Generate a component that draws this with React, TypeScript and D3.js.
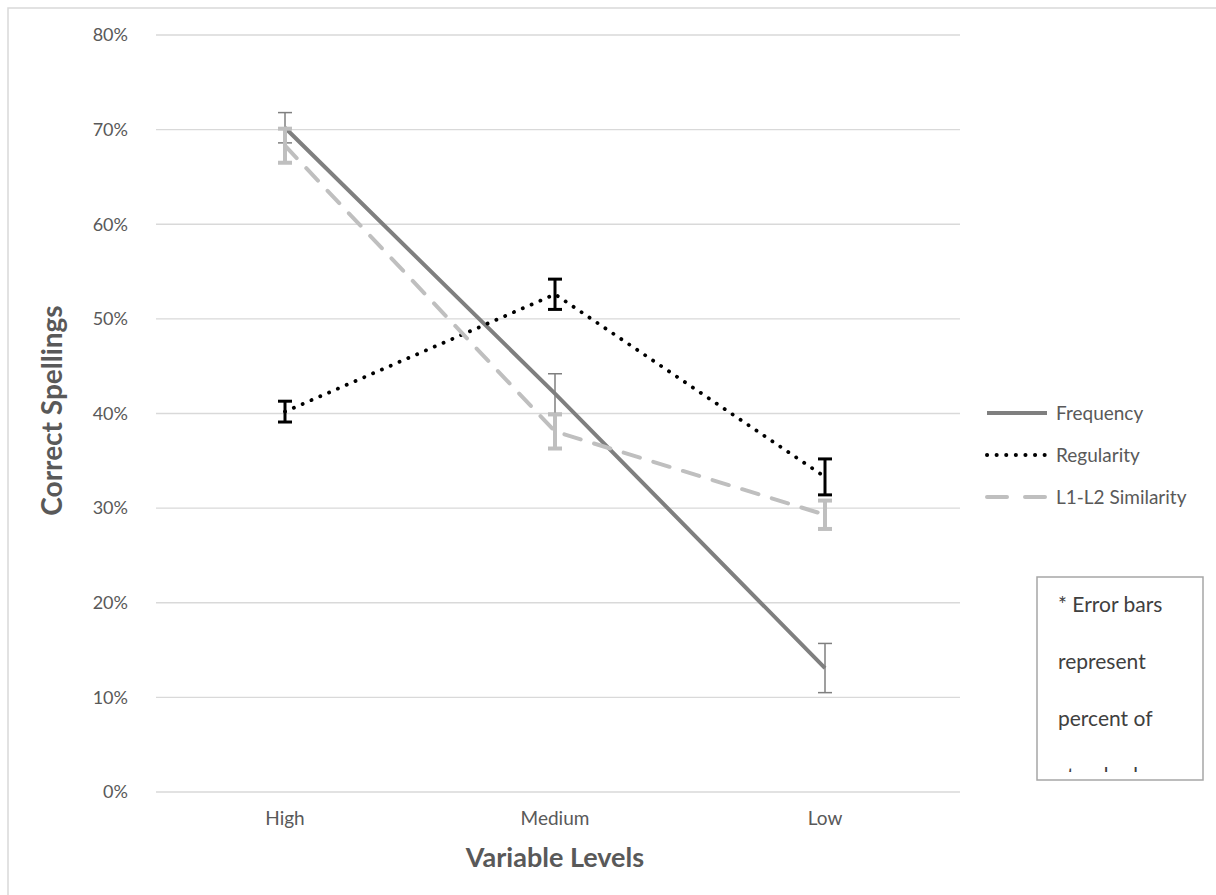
import React from "react";
import { scaleBand, scaleLinear, line } from "d3";

const levels = ["High", "Medium", "Low"];
const yTicks = [0, 0.1, 0.2, 0.3, 0.4, 0.5, 0.6, 0.7, 0.8];

const frequency = [0.702, 0.421, 0.131];
const frequencyErr = [0.016, 0.021, 0.026];
const regularity = [0.402, 0.526, 0.333];
const regularityErr = [0.011, 0.016, 0.019];
const similarity = [0.683, 0.381, 0.293];
const similarityErr = [0.018, 0.018, 0.015];

const noteLines = ["* Error bars", "represent", "percent of", "standard"];

const font = "Lato, 'Open Sans', sans-serif";

export default function App() {
  const width = 1216;
  const height = 895;
  const margin = { top: 35, right: 256, bottom: 103, left: 150 };
  const innerWidth = width - margin.left - margin.right;
  const innerHeight = height - margin.top - margin.bottom;

  const xScale = scaleBand().domain(levels).range([0, innerWidth]);
  const yScale = scaleLinear().domain([0, 0.8]).range([innerHeight, 0]);
  const xPos = (i) => xScale(levels[i]) + xScale.bandwidth() / 2;

  const path = line<number>()
    .x((d, i) => xPos(i))
    .y((d) => yScale(d));

  const series = [
    { name: "Frequency", values: frequency, err: frequencyErr, color: "#7f7f7f", dash: "none", cap: "butt", errWidth: 1.5 },
    { name: "Regularity", values: regularity, err: regularityErr, color: "#000000", dash: "0.1 9.5", cap: "round", errWidth: 3 },
    { name: "L1-L2 Similarity", values: similarity, err: similarityErr, color: "#bfbfbf", dash: "17 14", cap: "round", errWidth: 4 },
  ];

  return (
    <svg
      width={width}
      height={height}
      style={{ position: "absolute", left: 0, top: 0, background: "#fff" }}
    >
      <rect x={8} y={8} width={1220} height={900} fill="#fff" stroke="#d9d9d9" strokeWidth={1.5} />
      <g transform={`translate(${margin.left},${margin.top})`}>
        {yTicks.map((t, id) => (
          <g key={id} transform={`translate(0,${yScale(t)})`}>
            <line x1={6} x2={innerWidth} stroke="#d9d9d9" strokeWidth={1.3} />
            <text x={-22} dy=".35em" textAnchor="end" fontFamily={font} fontSize={18} fill="#595959">
              {Math.round(t * 100)}%
            </text>
          </g>
        ))}
        {levels.map((l, i) => (
          <text key={l} x={xPos(i)} y={innerHeight + 33} textAnchor="middle" fontFamily={font} fontSize={19} fill="#595959">
            {l}
          </text>
        ))}
        <text x={innerWidth / 2} y={innerHeight + 75} textAnchor="middle" fontFamily={font} fontSize={27} fontWeight="bold" fill="#595959">
          Variable Levels
        </text>
        <text
          transform={`translate(${-88},${innerHeight / 2 - 3}) rotate(-90)`}
          textAnchor="middle"
          fontFamily={font}
          fontSize={28}
          fontWeight="bold"
          fill="#595959"
        >
          Correct Spellings
        </text>

        {series.map((s) => (
          <path
            key={s.name}
            d={path(s.values)}
            fill="none"
            stroke={s.color}
            strokeWidth={s.name === "Regularity" ? 3.8 : 4}
            strokeDasharray={s.dash}
            strokeLinecap={s.cap}
          />
        ))}
        {series.map((s) =>
          s.values.map((v, i) => {
            const x = xPos(i);
            const y1 = yScale(v + s.err[i]);
            const y2 = yScale(v - s.err[i]);
            return (
              <g key={s.name + i} stroke={s.color} strokeWidth={s.errWidth}>
                <line x1={x} x2={x} y1={y1} y2={y2} />
                <line x1={x - 7} x2={x + 7} y1={y1} y2={y1} />
                <line x1={x - 7} x2={x + 7} y1={y2} y2={y2} />
              </g>
            );
          })
        )}
      </g>

      {series.map((s, i) => (
        <g key={s.name} transform={`translate(987,${413 + i * 42})`}>
          <line
            x1={0}
            x2={s.name === "Regularity" ? 62 : 60}
            stroke={s.color}
            strokeWidth={4}
            strokeDasharray={s.name === "L1-L2 Similarity" ? "20 18" : s.dash}
            strokeLinecap={s.cap}
          />
          <text x={69} dy=".35em" fontFamily={font} fontSize={19} fill="#595959">
            {s.name}
          </text>
        </g>
      ))}

      <defs>
        <clipPath id="noteClip">
          <rect x={1037} y={578} width={166} height={194} />
        </clipPath>
      </defs>
      <rect x={1037} y={577} width={166} height={203} fill="#fff" stroke="#a6a6a6" strokeWidth={1.5} />
      <g clipPath="url(#noteClip)">
        {noteLines.map((t, i) => (
          <text key={t} x={1058} y={612 + i * 57} fontFamily={font} fontSize={21} fill="#404040">
            {t}
          </text>
        ))}
      </g>
    </svg>
  );
}
